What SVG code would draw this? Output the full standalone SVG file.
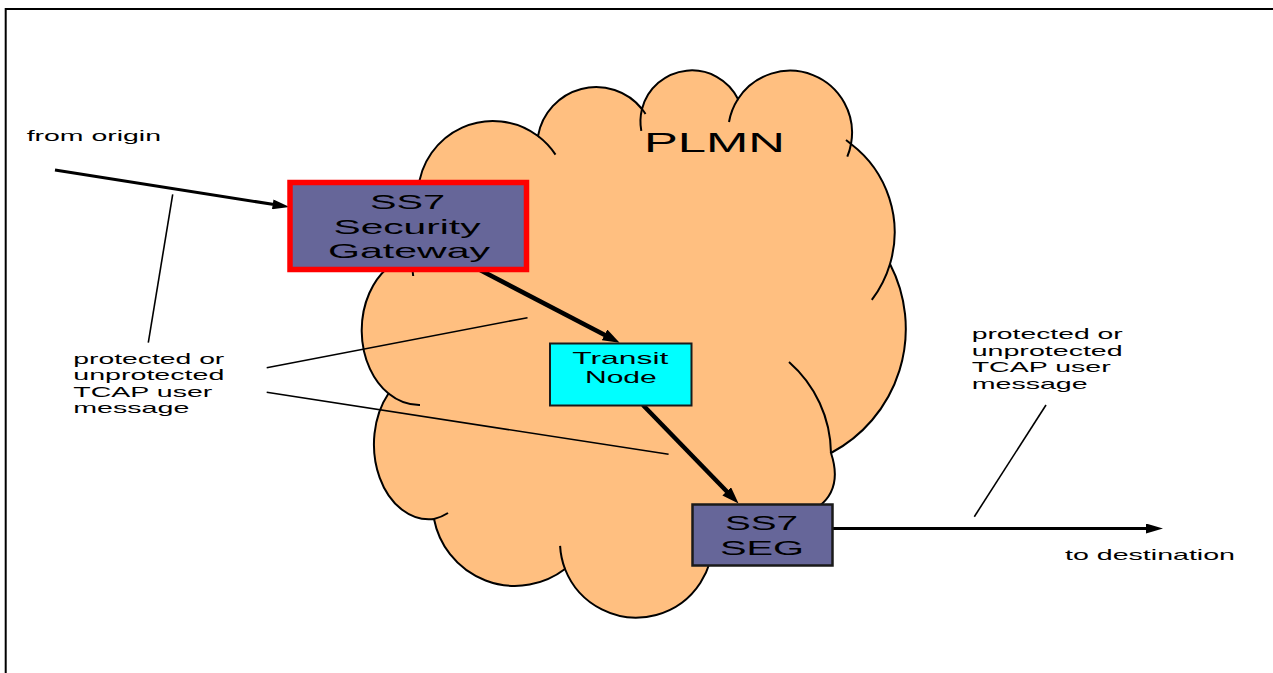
<svg xmlns="http://www.w3.org/2000/svg" width="1273" height="673" viewBox="0 0 1273 673">
<style>
text{font-family:"Liberation Sans",Arial,Helvetica,sans-serif;fill:#000}
.lbl{font-size:15px}
.big{font-size:21px}
.mid{font-size:17px}
.cloud{fill:#FFBF80;stroke:#000;stroke-width:2}
.inner{fill:none;stroke:#000;stroke-width:2}
.call{fill:none;stroke:#000;stroke-width:1.6}
.arr{fill:none;stroke:#000;stroke-width:3}
.arrb{fill:none;stroke:#000;stroke-width:4.5}
.seg{fill:#666699;stroke:#1a1a1a;stroke-width:2.5}
</style>
<defs>
<marker id="ah" markerUnits="userSpaceOnUse" markerWidth="17" markerHeight="10" refX="3" refY="5" orient="auto"><path d="M0,0 L17,5 L0,10 z" fill="#000"/></marker>
<marker id="ahb" markerUnits="userSpaceOnUse" markerWidth="17" markerHeight="12" refX="3" refY="6" orient="auto"><path d="M0,0 L17,6 L0,12 z" fill="#000"/></marker>
</defs>
<rect x="0" y="0" width="1273" height="673" fill="#fff"/>
<path d="M5.7,673 V9 H1273" fill="none" stroke="#000" stroke-width="2"/>

<g id="plmn">
<path class="cloud" d="M387.4,268 L418.2,190 A75,75 0 0 1 538,136 A59,59 0 0 1 642,109 A51.5,51.5 0 0 1 738,99 A62,62 0 0 1 851,144 A111,111 0 0 1 890,264 A140.6,140.6 0 0 1 831,453 C845,495 825,528 711.8,529.2 A76.5,76.5 0 0 1 565,569 A82.5,82.5 0 0 1 434,519 A55,75 0 0 1 388.5,393.5 A58,75 0 0 1 387.4,268 Z"/>
<path class="inner" d="M538,136 A75,75 0 0 1 555.5,154.6"/>
<path class="inner" d="M642,109 A59,59 0 0 1 645.5,114"/>
<path class="inner" d="M641.3,130.9 A51.5,51.5 0 0 1 642,109"/>
<path class="inner" d="M729,122 A62,62 0 0 1 738,99"/>
<path class="inner" d="M846,140 A111,111 0 0 1 851,144"/>
<path class="inner" d="M851,144 A62,62 0 0 1 847.3,156.7"/>
<path class="inner" d="M890,264 A111,111 0 0 1 871.8,299.9"/>
<path class="inner" d="M789,362 A123,123 0 0 1 831,453"/>
<path class="inner" d="M565,569 A76.5,76.5 0 0 1 560.1,545.9"/>
<path class="inner" d="M448,513 A55,75 0 0 1 434,519"/>
<path class="inner" d="M420,405 A58,75 0 0 1 388.5,393.5"/>
<path class="inner" d="M412.5,270 L413.2,276"/>
<text x="644" y="152" font-size="28" textLength="141" lengthAdjust="spacingAndGlyphs">PLMN</text>
</g>

<g id="connectors">
<line class="arr" x1="55" y1="170" x2="275.7" y2="204.8" marker-end="url(#ah)"/>
<line class="arrb" x1="478.6" y1="269.3" x2="607.2" y2="336.2" marker-end="url(#ahb)"/>
<line class="arrb" x1="642.9" y1="405" x2="728.8" y2="493.5" marker-end="url(#ahb)"/>
<line class="arr" x1="833" y1="528.5" x2="1149" y2="528.5" marker-end="url(#ah)"/>
<line class="call" x1="148.3" y1="342.7" x2="172.7" y2="194.3"/>
<line class="call" x1="266.7" y1="367.7" x2="527.5" y2="317.7"/>
<line class="call" x1="266.7" y1="392.3" x2="668.6" y2="454.3"/>
<line class="call" x1="974.3" y1="516.7" x2="1046" y2="405"/>
</g>

<g id="gateway">
<rect x="290" y="182.5" width="236.5" height="87" fill="#666699" stroke="#FF0000" stroke-width="5.5"/>
<text class="big" x="370" y="209" textLength="75" lengthAdjust="spacingAndGlyphs">SS7</text>
<text class="big" x="333.5" y="234" textLength="147" lengthAdjust="spacingAndGlyphs">Security</text>
<text class="big" x="328" y="258" textLength="162" lengthAdjust="spacingAndGlyphs">Gateway</text>
</g>

<g id="transit">
<rect x="550" y="343.5" width="141.5" height="62" fill="#00FFFF" stroke="#1a1a1a" stroke-width="2"/>
<text class="mid" x="572.3" y="364" textLength="96" lengthAdjust="spacingAndGlyphs">Transit</text>
<text class="mid" x="585" y="382.7" textLength="71.7" lengthAdjust="spacingAndGlyphs">Node</text>
</g>

<g id="seg">
<rect class="seg" x="692.5" y="504.5" width="140" height="61"/>
<text class="big" x="725" y="530" textLength="73" lengthAdjust="spacingAndGlyphs">SS7</text>
<text class="big" x="720" y="554.5" textLength="84" lengthAdjust="spacingAndGlyphs">SEG</text>
</g>

<g id="label-origin">
<text class="lbl" x="26.7" y="140.5" textLength="134.3" lengthAdjust="spacingAndGlyphs">from origin</text>
</g>
<g id="label-left">
<text class="lbl" x="73.3" y="363.5" textLength="151" lengthAdjust="spacingAndGlyphs">protected or</text>
<text class="lbl" x="73.3" y="380" textLength="151" lengthAdjust="spacingAndGlyphs">unprotected</text>
<text class="lbl" x="73.3" y="396.5" textLength="139" lengthAdjust="spacingAndGlyphs">TCAP user</text>
<text class="lbl" x="73.3" y="413" textLength="116" lengthAdjust="spacingAndGlyphs">message</text>
</g>
<g id="label-right">
<text class="lbl" x="971.7" y="339" textLength="151" lengthAdjust="spacingAndGlyphs">protected or</text>
<text class="lbl" x="971.7" y="355.5" textLength="151" lengthAdjust="spacingAndGlyphs">unprotected</text>
<text class="lbl" x="971.7" y="372" textLength="139" lengthAdjust="spacingAndGlyphs">TCAP user</text>
<text class="lbl" x="971.7" y="388.5" textLength="116" lengthAdjust="spacingAndGlyphs">message</text>
</g>
<g id="label-dest">
<text class="lbl" x="1065" y="560" textLength="170" lengthAdjust="spacingAndGlyphs">to destination</text>
</g>
</svg>
